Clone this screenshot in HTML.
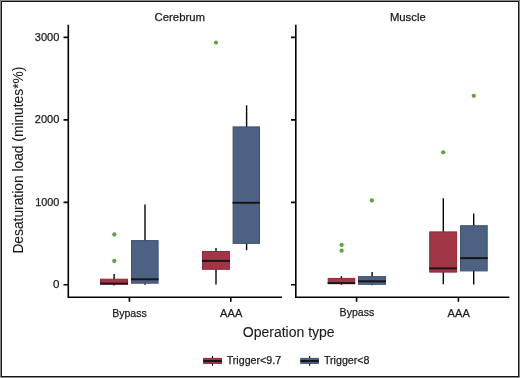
<!DOCTYPE html>
<html><head><meta charset="utf-8"><style>
html,body{margin:0;padding:0;background:#fff;}
body{width:520px;height:378px;overflow:hidden;position:relative;}
svg{position:absolute;left:0;top:0;display:block;will-change:transform;}
text{font-family:"Liberation Sans",sans-serif;fill:#1a1a1a;stroke:#1a1a1a;stroke-width:0.25;}
.big{stroke-width:0.1;}
</style></head><body>
<svg width="520" height="378" viewBox="0 0 520 378">
<rect x="0" y="0" width="520" height="378" fill="#fff"/>
<rect x="0.5" y="0.5" width="519" height="377" fill="none" stroke="#8a8a8a" stroke-width="1"/>
<rect x="1.5" y="1.5" width="517" height="375" fill="none" stroke="#141414" stroke-width="1"/>
<text x="179.8" y="20.9" font-size="11" text-anchor="middle" textLength="50.5" lengthAdjust="spacingAndGlyphs">Cerebrum</text>
<text x="407.8" y="20.9" font-size="11" text-anchor="middle" textLength="35.8" lengthAdjust="spacingAndGlyphs">Muscle</text>
<text x="59.4" y="40.9" font-size="11.6" text-anchor="end" textLength="24.6" lengthAdjust="spacingAndGlyphs">3000</text>
<text x="59.4" y="123.3" font-size="11.6" text-anchor="end" textLength="24.6" lengthAdjust="spacingAndGlyphs">2000</text>
<text x="59.4" y="205.9" font-size="11.6" text-anchor="end" textLength="24.2" lengthAdjust="spacingAndGlyphs">1000</text>
<text x="59.4" y="288.4" font-size="11.6" text-anchor="end">0</text>
<text class="big" transform="translate(23.1,160.1) rotate(-90)" font-size="14" text-anchor="middle" textLength="187" lengthAdjust="spacingAndGlyphs">Desaturation load (minutes*%)</text>
<g stroke="#030303" stroke-width="1.6" fill="none">
<path d="M68.3 24.8 V297.3 H282"/>
<path d="M295.8 24.8 V297.3 H509.3"/>
<path d="M63.5 37.4 H68 M63.5 119.9 H68 M63.5 202.4 H68 M63.5 284.8 H68"/>
<path d="M291 37.4 H295.5 M291 119.9 H295.5 M291 202.4 H295.5 M291 284.8 H295.5"/>
<path d="M129.4 297 V301.8 M230.8 297 V301.8 M356.6 297 V301.8 M458.4 297 V301.8"/>
</g>
<text x="129.5" y="316.5" font-size="11.6" text-anchor="middle" textLength="34.6" lengthAdjust="spacingAndGlyphs">Bypass</text>
<text x="231.2" y="316.6" font-size="11.6" text-anchor="middle" textLength="22.2" lengthAdjust="spacingAndGlyphs">AAA</text>
<text x="356.9" y="316.4" font-size="11.6" text-anchor="middle" textLength="34.6" lengthAdjust="spacingAndGlyphs">Bypass</text>
<text x="458.7" y="316.6" font-size="11.6" text-anchor="middle" textLength="22.2" lengthAdjust="spacingAndGlyphs">AAA</text>
<text x="288.7" y="337.2" font-size="14" text-anchor="middle" class="big">Operation type</text>
<g stroke="#050505" stroke-width="1.4">
<path d="M114.1 274.1 V285.5"/>
<path d="M145.0 204.5 V284.8"/>
<path d="M216.0 248.1 V284.4"/>
<path d="M246.6 105.3 V250.2"/>
<path d="M341.4 276.2 V284.8"/>
<path d="M372.1 271.9 V285.3"/>
<path d="M443.3 198.2 V284.2"/>
<path d="M473.7 213.4 V284.5"/>
</g>
<g stroke-width="1">
<rect x="100.5" y="279.2" width="27" height="4.9" fill="#a23546" stroke="#94283a"/>
<rect x="131.5" y="240.6" width="26.6" height="42.6" fill="#4d6283" stroke="#3a5178"/>
<rect x="202.5" y="251.5" width="26.9" height="17.8" fill="#a23546" stroke="#94283a"/>
<rect x="233.1" y="126.9" width="26.4" height="116.5" fill="#4d6283" stroke="#3a5178"/>
<rect x="328.2" y="278.4" width="26.5" height="5.2" fill="#a23546" stroke="#94283a"/>
<rect x="358.5" y="276.6" width="27" height="7.7" fill="#4d6283" stroke="#3a5178"/>
<rect x="429.7" y="231.9" width="26.9" height="40.2" fill="#a23546" stroke="#94283a"/>
<rect x="460.5" y="225.7" width="26.7" height="45.2" fill="#4d6283" stroke="#3a5178"/>
</g>
<g stroke="#181516" stroke-width="2">
<path d="M100 283.6 H128"/>
<path d="M131 279.3 H158.6"/>
<path d="M202 260.9 H229.9"/>
<path d="M232.6 202.8 H260"/>
<path d="M327.7 283.1 H355.2"/>
<path d="M358 281.3 H386"/>
<path d="M429.2 268.4 H457.1"/>
<path d="M460 258.1 H487.7"/>
</g>
<g fill="#5ea443">
<circle cx="114.3" cy="234.5" r="2.15"/>
<circle cx="114.3" cy="261" r="2.15"/>
<circle cx="216" cy="42.6" r="2.15"/>
<circle cx="341.6" cy="244.9" r="2.15"/>
<circle cx="341.6" cy="250.7" r="2.15"/>
<circle cx="371.9" cy="200.4" r="2.15"/>
<circle cx="443.2" cy="152.3" r="2.15"/>
<circle cx="473.8" cy="95.8" r="2.15"/>
</g>
<path d="M212.5 356.1 V365.8 M309.6 356.1 V365.8" stroke="#111" stroke-width="1.2"/>
<rect x="203.6" y="358.4" width="17.9" height="5" fill="#a23546" stroke="#94283a" stroke-width="1"/>
<rect x="300.8" y="358.4" width="17.6" height="5" fill="#4d6283" stroke="#3a5178" stroke-width="1"/>
<path d="M203.2 361 H221.8 M300.4 361 H318.8" stroke="#181516" stroke-width="2"/>
<text x="226.7" y="363.9" font-size="11" textLength="54.5" lengthAdjust="spacingAndGlyphs">Trigger&lt;9.7</text>
<text x="323.9" y="363.9" font-size="11" textLength="45.6" lengthAdjust="spacingAndGlyphs">Trigger&lt;8</text>
</svg>
</body></html>
